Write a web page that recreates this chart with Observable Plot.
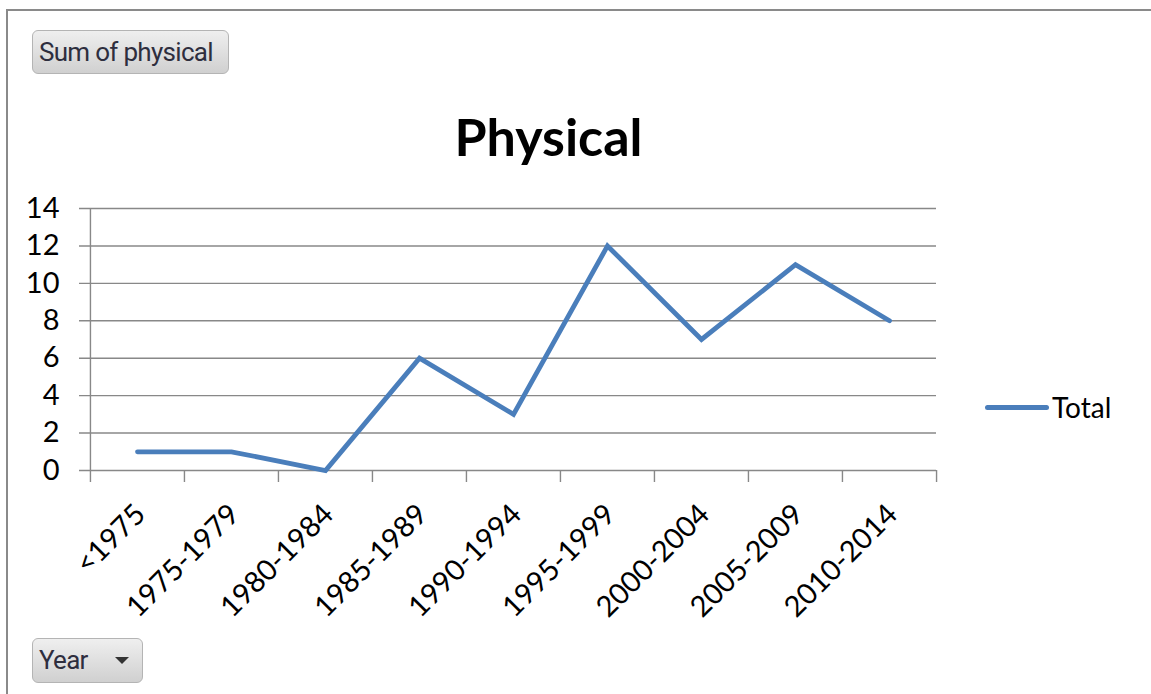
<!DOCTYPE html>
<html>
<head>
<meta charset="utf-8">
<script src="https://cdn.jsdelivr.net/npm/d3@7"></script>
<script src="https://cdn.jsdelivr.net/npm/@observablehq/plot@0.6"></script>
<style>
  html, body { margin: 0; padding: 0; background: #fff; }
  #wrap { position: relative; width: 1151px; height: 694px; overflow: hidden; background: #fff; }
  .border-top { position: absolute; left: 6px; top: 9px; width: 1145px; height: 2px; background: #8a8a8a; }
  .border-left { position: absolute; left: 6px; top: 9px; width: 2px; height: 685px; background: #8a8a8a; }
  .btn { position: absolute; box-sizing: border-box; border: 1px solid #b4b4b4; border-radius: 6px;
         background: linear-gradient(#efefef, #d0d0d0); font-family: Roboto, sans-serif; font-size: 26px;
         color: #2e2e3e; letter-spacing: -0.7px; line-height: 42px; padding-left: 6px; white-space: nowrap; }
  .tri { position: absolute; width: 0; height: 0; border-left: 7px solid transparent; border-right: 7px solid transparent;
         border-top: 7px solid #333; }
  #title { position: absolute; left: 0; width: 1097px; top: 110px; text-align: center; font-family: Lato, sans-serif;
           font-weight: bold; font-size: 52px; line-height: 52px; color: #000; }
  #chart { position: absolute; left: 0; top: 190px; }
  .leg-line { position: absolute; left: 985px; top: 405px; width: 64px; height: 5px; border-radius: 3px; background: #4a7ebb; }
  .leg-text { position: absolute; left: 1052px; top: 391px; font-family: Lato, sans-serif; font-size: 28px; line-height: 32px; color: #000; }
</style>
</head>
<body>
<div id="wrap">
  <div class="border-top"></div>
  <div class="border-left"></div>
  <div class="btn" style="left:32px; top:30px; width:197px; height:44px;">Sum of physical</div>
  <div id="title">Physical</div>
  <div id="chart"></div>
  <div class="leg-line"></div>
  <div class="leg-text">Total</div>
  <div class="btn" style="left:32px; top:638px; width:111px; height:45px;">Year</div>
  <div class="tri" style="left:115px; top:657px;"></div>
</div>
<script>
const categories = ["<1975", "1975-1979", "1980-1984", "1985-1989", "1990-1994", "1995-1999", "2000-2004", "2005-2009", "2010-2014"];
const totals = [1, 1, 0, 6, 3, 12, 7, 11, 8];
const yTicks = [0, 2, 4, 6, 8, 10, 12, 14];

const data = categories.map((c, i) => ({period: c, total: totals[i]}));

const W = 1151, H = 440, ML = 89, MR = 215, MT = 18, MB = 160;
const bw = (W - ML - MR) / categories.length;
const gridColor = "#888888";

const chart = Plot.plot({
  width: W, height: H,
  marginLeft: ML, marginRight: MR, marginTop: MT, marginBottom: MB,
  x: {type: "band", domain: categories, padding: 0, axis: null},
  y: {domain: [0, 14], axis: null},
  style: {fontFamily: "Lato, sans-serif", fontSize: "28px", color: "#000", background: "transparent", overflow: "visible"},
  marks: [
    Plot.ruleY(yTicks, {stroke: gridColor, strokeWidth: 1.4, insetLeft: -10}),
    Plot.ruleX([categories[0]], {y1: 0, y2: 14, dx: -bw / 2, stroke: gridColor, strokeWidth: 1.4}),
    Plot.ruleX(categories, {y1: 0, y2: 0, insetBottom: -12, dx: -bw / 2, stroke: gridColor, strokeWidth: 1.4}),
    Plot.ruleX([categories[categories.length - 1]], {y1: 0, y2: 0, insetBottom: -12, dx: bw / 2, stroke: gridColor, strokeWidth: 1.4}),
    Plot.axisY({ticks: yTicks, tickSize: 0, tickPadding: 30, fontSize: 29, fill: "#000", label: null}),
    Plot.line(data, {x: "period", y: "total", stroke: "#4a7ebb", strokeWidth: 4.8, strokeLinejoin: "miter", strokeMiterlimit: 3, strokeLinecap: "round"}),
    Plot.text(categories, {x: d => d, y: 0, text: d => d, rotate: -45, textAnchor: "end", lineAnchor: "middle",
      dx: 3, dy: 39, fontSize: 29, fill: "#000"})
  ]
});
document.getElementById("chart").appendChild(chart);
</script>
</body>
</html>
